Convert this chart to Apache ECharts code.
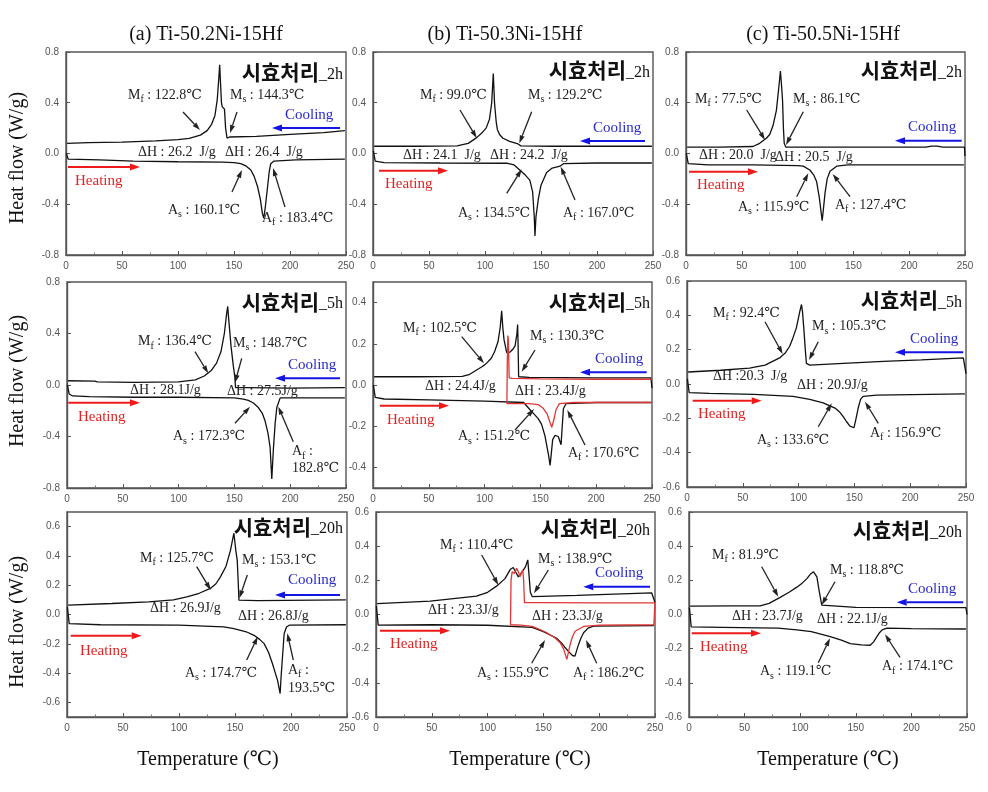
<!DOCTYPE html>
<html><head><meta charset="utf-8">
<script src="https://cdn.jsdelivr.net/npm/echarts@6/dist/echarts.min.js"></script>
<style>html,body{margin:0;padding:0;background:#fff}#c{width:988px;height:792px}</style>
</head><body><div id="c"></div>
<script>
// ---------- DATA (temperature °C, heat flow W/g) ----------
const xTicks = [0, 50, 100, 150, 200, 250];
const yTicks_08 = [-0.8, -0.4, 0.0, 0.4, 0.8];
const yTicks_05 = [-0.4, -0.2, 0.0, 0.2, 0.4];
const yTicks_06 = [-0.6, -0.4, -0.2, 0.0, 0.2, 0.4, 0.6];

// (a) Ti-50.2Ni-15Hf
const cool_a2 = [[1,0.08],[20,0.085],[50,0.09],[80,0.1],[100,0.11],[110,0.12],[120,0.145],[126,0.18],[130,0.23],[133,0.3],[135,0.42],[136.5,0.6],[137.2,0.7],[138,0.55],[138.8,0.4],[139.5,0.37],[140.5,0.38],[141.5,0.35],[142.5,0.2],[143.8,0.12],[146,0.13],[170,0.135],[200,0.15],[230,0.165],[249,0.18]];
const heat_a2 = [[0.3,0.0],[2,-0.045],[30,-0.05],[60,-0.06],[100,-0.065],[140,-0.068],[150,-0.072],[156,-0.08],[161,-0.1],[165,-0.13],[168,-0.18],[171,-0.26],[173.5,-0.36],[175.3,-0.47],[176.6,-0.51],[178,-0.42],[180,-0.26],[181.5,-0.14],[182.8,-0.08],[185.7,-0.06],[205,-0.05],[249,-0.045]];
const cool_a5 = [[1,0.033],[25,0.03],[27,0.025],[60,0.02],[100,0.025],[115,0.04],[123,0.07],[129,0.11],[134,0.17],[138,0.26],[141,0.4],[143,0.55],[144,0.61],[145,0.5],[147,0.3],[149,0.15],[150.4,0.06],[151,-0.02],[160,-0.02],[200,-0.025],[249,-0.02]];
const heat_a5 = [[0.3,0.0],[2,-0.07],[5,-0.085],[20,-0.09],[60,-0.095],[100,-0.095],[150,-0.1],[158,-0.11],[162.5,-0.12],[167,-0.14],[171.5,-0.175],[175,-0.22],[177.5,-0.28],[180,-0.37],[182,-0.485],[183.5,-0.73],[185,-0.49],[186.5,-0.3],[188,-0.175],[191,-0.1],[195,-0.1],[249,-0.1]];
const cool_a20 = [[1,0.064],[40,0.075],[73,0.086],[95,0.1],[107,0.12],[118,0.145],[128,0.178],[133,0.21],[137,0.257],[142,0.33],[146,0.44],[149,0.555],[150.7,0.44],[152,0.37],[153,0.2],[153.5,0.098],[170,0.095],[249,0.1]];
const heat_a20 = [[0.3,0.05],[2,-0.062],[30,-0.07],[100,-0.073],[140,-0.085],[149,-0.096],[160,-0.118],[167,-0.142],[172,-0.17],[176,-0.199],[180,-0.26],[183.4,-0.335],[186,-0.4],[188,-0.45],[190.3,-0.54],[191.2,-0.42],[192.4,-0.29],[193.9,-0.13],[196,-0.085],[198.5,-0.073],[249,-0.07]];

// (b) Ti-50.3Ni-15Hf
const cool_b2 = [[1,0.057],[40,0.057],[75,0.06],[85,0.08],[92.6,0.125],[98,0.17],[101,0.2],[104,0.27],[106,0.4],[107.4,0.63],[108.5,0.4],[110,0.25],[111,0.19],[113,0.15],[116,0.12],[122,0.095],[129.5,0.075],[132,0.06],[160,0.057],[249,0.057]];
const heat_b2 = [[0.3,0.02],[2,-0.06],[10,-0.072],[60,-0.075],[120,-0.077],[126,-0.09],[131,-0.13],[136,-0.17],[140,-0.21],[142.5,-0.3],[144,-0.5],[144.6,-0.65],[145.5,-0.5],[147.6,-0.36],[150,-0.25],[155,-0.15],[160,-0.115],[167,-0.1],[170,-0.08],[200,-0.075],[249,-0.075]];
const cool_b5 = [[1,0.04],[40,0.04],[80,0.042],[86,0.05],[92.8,0.073],[98,0.09],[101.8,0.106],[106,0.13],[109,0.163],[112,0.21],[114,0.28],[115.3,0.36],[116.3,0.28],[117.4,0.22],[119.8,0.157],[122.8,0.16],[125.5,0.175],[127.3,0.19],[129,0.25],[129.6,0.294],[130,0.2],[130.5,0.04],[140,0.037],[200,0.035],[249,0.035],[250,-0.015]];
const heat_b5 = [[0.3,0.0],[2,-0.06],[10,-0.068],[50,-0.072],[100,-0.078],[135,-0.085],[140.7,-0.12],[145,-0.145],[148,-0.163],[151,-0.19],[154,-0.245],[157.3,-0.34],[158.7,-0.39],[160,-0.32],[161,-0.265],[163,-0.245],[166,-0.25],[168.5,-0.29],[170.6,-0.115],[173,-0.09],[200,-0.085],[249,-0.085]];
const red_b5 = [[250,0.028],[200,0.028],[150,0.03],[125,0.032],[122,0.035],[121.3,0.22],[120.8,0.24],[120.3,0.1],[120,-0.09],[130,-0.09],[140,-0.09],[148,-0.095],[152,-0.11],[156,-0.14],[158.5,-0.18],[160.2,-0.205],[162,-0.17],[164,-0.12],[167,-0.09],[180,-0.085],[250,-0.085]];
const cool_b20 = [[1,0.064],[48.6,0.078],[90,0.107],[100,0.13],[108,0.166],[115.6,0.21],[120.2,0.263],[123,0.275],[125,0.25],[127.6,0.22],[131,0.25],[134,0.28],[136,0.32],[137.5,0.2],[138.3,0.13],[140,0.105],[180,0.112],[247,0.127],[250,0.07]];
const heat_b20 = [[0.3,0.05],[2,-0.062],[50,-0.06],[100,-0.063],[140,-0.075],[150,-0.1],[156,-0.12],[162,-0.14],[166,-0.165],[169,-0.19],[173,-0.22],[176,-0.24],[178.3,-0.244],[181,-0.185],[183.5,-0.14],[186,-0.107],[190,-0.08],[195,-0.068],[249,-0.065]];
const red_b20 = [[250,0.068],[200,0.068],[150,0.07],[133,0.07],[132.3,0.2],[131.5,0.26],[130,0.24],[129,0.22],[127.5,0.25],[126,0.27],[124,0.24],[122,0.25],[121,0.2],[120.5,-0.06],[130,-0.062],[140,-0.07],[146,-0.085],[153,-0.107],[160,-0.135],[165,-0.165],[168,-0.2],[171,-0.263],[174,-0.175],[176,-0.13],[178.4,-0.098],[186,-0.07],[200,-0.062],[249,-0.06],[250,0.068]];

// (c) Ti-50.5Ni-15Hf
const cool_c2 = [[1,0.05],[30,0.05],[60,0.055],[66,0.08],[72,0.12],[75,0.15],[78,0.22],[81,0.34],[83.5,0.55],[84.6,0.65],[85.5,0.55],[86.5,0.42],[87.3,0.2],[88,0.08],[89.5,0.05],[150,0.05],[215,0.05],[220,0.058],[225,0.058],[230,0.05],[249.5,0.05],[250,-0.02]];
const heat_c2 = [[0.3,0.0],[2,-0.08],[20,-0.09],[60,-0.09],[100,-0.095],[105,-0.1],[111,-0.13],[114.5,-0.17],[117,-0.22],[119.5,-0.35],[122,-0.53],[123,-0.45],[124.6,-0.31],[126.5,-0.2],[129,-0.14],[135,-0.1],[145,-0.09],[249,-0.09]];
const cool_c5 = [[1,0.07],[30,0.08],[56,0.093],[70,0.11],[83,0.152],[88,0.18],[92,0.22],[95,0.27],[98,0.327],[101,0.42],[102.6,0.463],[103.5,0.42],[104.6,0.33],[106,0.2],[107,0.12],[110,0.11],[140,0.12],[176,0.132],[210,0.14],[247.6,0.152],[250,0.06]];
const heat_c5 = [[0.3,0.03],[2,-0.05],[20,-0.055],[60,-0.06],[95,-0.072],[110,-0.09],[122,-0.11],[132.6,-0.14],[137,-0.165],[140,-0.19],[143,-0.22],[146,-0.245],[149.6,-0.255],[151.5,-0.2],[153.4,-0.14],[155.5,-0.09],[157.8,-0.072],[170,-0.065],[249,-0.058]];
const cool_c20 = [[1,0.049],[40,0.05],[64,0.05],[72,0.065],[82,0.1],[90,0.13],[97,0.16],[102,0.185],[106,0.21],[109,0.235],[112,0.25],[113.5,0.245],[115,0.22],[117,0.14],[119.4,0.055],[121,0.045],[150,0.042],[249,0.04],[250,0.0]];
const heat_c20 = [[0.3,0.04],[2,-0.072],[30,-0.075],[80,-0.08],[97,-0.09],[110,-0.1],[127,-0.13],[137,-0.15],[145,-0.17],[155,-0.178],[163,-0.18],[166,-0.16],[169,-0.13],[171.5,-0.105],[173.7,-0.09],[178,-0.08],[200,-0.083],[249,-0.085]];

const colTitles = ['(a) Ti-50.2Ni-15Hf', '(b) Ti-50.3Ni-15Hf', '(c) Ti-50.5Ni-15Hf'];
const ageTags = ['_2h', '_5h', '_20h'];

// ---------- LAYOUT ----------
const SERIF = '"Liberation Serif","DejaVu Serif","Times New Roman",serif';
const panels = [
  {g:[66,52,280,203],  y:[-0.8,0.8], ticks:yTicks_08, cool:cool_a2,  heat:heat_a2,  red:null, tag:0},
  {g:[373,52,280,203], y:[-0.8,0.8], ticks:yTicks_08, cool:cool_b2,  heat:heat_b2,  red:null, tag:0},
  {g:[686,52,279,203], y:[-0.8,0.8], ticks:yTicks_08, cool:cool_c2,  heat:heat_c2,  red:null, tag:0},
  {g:[67,282,279,206], y:[-0.8,0.8], ticks:yTicks_08, cool:cool_a5,  heat:heat_a5,  red:null, tag:1},
  {g:[373,282,279,206],y:[-0.5,0.5], ticks:yTicks_05, cool:cool_b5,  heat:heat_b5,  red:red_b5, tag:1},
  {g:[687,281,279,206],y:[-0.6,0.6], ticks:yTicks_06, cool:cool_c5,  heat:heat_c5,  red:null, tag:1},
  {g:[67,512,280,205], y:[-0.7,0.7], ticks:yTicks_06, cool:cool_a20, heat:heat_a20, red:null, tag:2},
  {g:[376,512,279,205],y:[-0.6,0.6], ticks:yTicks_06, cool:cool_b20, heat:heat_b20, red:red_b20, tag:2},
  {g:[689,512,278,205],y:[-0.6,0.6], ticks:yTicks_06, cool:cool_c20, heat:heat_c20, red:null, tag:2}
];

// annotation layout (pixels): texts [text, left, centerY], arrows [x1,y1,x2,y2]
const anns = [
  {t:[['M{s|f} : 122.8℃',128,95],['M{s|s} : 144.3℃',230,95],['ΔH : 26.2  J/g',138,152],['ΔH : 26.4  J/g',225,152],['A{s|s} : 160.1℃',168,210],['A{s|f} : 183.4℃',262,218]],
   a:[[183,112,200,130],[237,112,230,133],[232,192,242,170],[285,207,273,168]],
   cool:[285,115,340,128,272,128], heat:[75,181,68,167,140,167], tag:[343,72]},
  {t:[['M{s|f} : 99.0℃',420,95],['M{s|s} : 129.2℃',528,95],['ΔH : 24.1  J/g',403,155],['ΔH : 24.2  J/g',490,155],['A{s|s} : 134.5℃',458,213],['A{s|f} : 167.0℃',563,213]],
   a:[[460,110,476.7,138],[531.7,111.7,519.3,143.3],[506.7,193.3,521.7,169.3],[575,200,560.7,166.7]],
   cool:[593,128,645,141,580,141], heat:[385,184,379,170.7,448,170.7], tag:[650,70]},
  {t:[['M{s|f} : 77.5℃',695,99],['M{s|s} : 86.1℃',793,99],['ΔH : 20.0  J/g',699,155],['ΔH : 20.5  J/g',775,157],['A{s|s} : 115.9℃',738,207],['A{s|f} : 127.4℃',835,205]],
   a:[[746.7,110,765,140],[803.3,111.7,786,145],[796.7,196.7,808.3,173.3],[850,196.7,832.7,174]],
   cool:[908,127,961.7,140.7,895,140.7], heat:[697,185,689,171.7,758,171.7], tag:[962,70]},
  {t:[['M{s|f} : 136.4℃',138,341.7],['M{s|s} : 148.7℃',233,343],['ΔH : 28.1J/g',130,390],['ΔH : 27.5J/g',227,391.7],['A{s|s} : 172.3℃',173,436.7],['A{s|f} :',292,451.7],['182.8℃',292,468.3]],
   a:[[195,351.7,208.3,373.3],[241.7,358.3,235,382.7],[235,423.3,250,406.7],[293.3,441.7,278.3,406.7]],
   cool:[288,365,340,378.3,275,378.3], heat:[78,416.7,68.3,402.7,140,402.7], tag:[343,301.7]},
  {t:[['M{s|f} : 102.5℃',403,328.3],['M{s|s} : 130.3℃',530,336],['ΔH : 24.4J/g',425,386],['ΔH : 23.4J/g',515,391.7],['A{s|s} : 151.2℃',458,436.7],['A{s|f} : 170.6℃',568,453.3]],
   a:[[461.7,336.7,484,363.3],[535,350,521.7,371.7],[515,430,534,409],[585,445,567.3,410]],
   cool:[595,359,646.7,372.3,580,372.3], heat:[387,420,380,405.7,449,405.7], tag:[650,301.7]},
  {t:[['M{s|f} : 92.4℃',713,313.3],['M{s|s} : 105.3℃',812,326.7],['ΔH :20.3  J/g',713,376.7],['ΔH : 20.9J/g',797,385],['A{s|s} : 133.6℃',757,440],['A{s|f} : 156.9℃',870,433.3]],
   a:[[765,321.7,782.7,354],[818.3,341.7,809,360],[818.3,426.7,831.7,403.3],[878.3,423.3,865,401.7]],
   cool:[910,339,963.3,352.3,895,352.3], heat:[698,414.3,692.7,400.7,761.7,400.7], tag:[962,300]},
  {t:[['M{s|f} : 125.7℃',140,558.3],['M{s|s} : 153.1℃',242,560],['ΔH : 26.9J/g',150,608.3],['ΔH : 26.8J/g',238,616.7],['A{s|s} : 174.7℃',185,673.3],['A{s|f} :',288,670],['193.5℃',288,688.3]],
   a:[[196.7,566.7,210.7,590],[247.3,575,239.3,598.3],[246.7,660,257.7,636.7],[293.3,660,287.3,633.3]],
   cool:[288,580,340,595,275,595], heat:[80,650.7,70.7,635.7,141.7,635.7], tag:[343,526.7]},
  {t:[['M{s|f} : 110.4℃',440,545],['M{s|s} : 138.9℃',538,559.3],['ΔH : 23.3J/g',428,610],['ΔH : 23.3J/g',532,616.7],['A{s|s} : 155.9℃',477,673.3],['A{s|f} : 186.2℃',573,673.3]],
   a:[[481.7,555,498.3,585],[548.3,570,534,593.3],[531.7,663.3,545,640],[596.7,663.3,586,640]],
   cool:[595,573.3,650,586.7,583.3,586.7], heat:[390,644,380,630.7,450,630.7], tag:[650,528.3]},
  {t:[['M{s|f} : 81.9℃',712,555],['M{s|s} : 118.8℃',830,570],['ΔH : 23.7J/g',732,616.7],['ΔH : 22.1J/g',817,619.3],['A{s|s} : 119.1℃',760,671.7],['A{s|f} : 174.1℃',882,666.7]],
   a:[[761.7,566.7,778.3,596.7],[835,581.7,821.7,605],[818.3,662.7,830,638.3],[900,657.3,885,634.3]],
   cool:[908,589.3,963.3,602.3,896.7,602.3], heat:[700,646.7,691.7,633.3,761,633.3], tag:[962,530]}
];

function fmt1(v){ return Math.abs(v) < 1e-9 ? '0.0' : v.toFixed(1); }
function txt(x, y, text, extra){
  return {type:'text', x:x, y:y, z:50, silent:true,
    style: Object.assign({text:text, font:'14px '+SERIF, fill:'#222', align:'left', verticalAlign:'middle',
      rich:{s:{font:'10px '+SERIF, fill:'#222', verticalAlign:'bottom', padding:[9,0,0,0]}}}, extra||{})};
}
function arrow(x1,y1,x2,y2,color,lw,hl,hw){
  const ang = Math.atan2(y2-y1, x2-x1);
  const bx = x2 - hl*Math.cos(ang), by = y2 - hl*Math.sin(ang);
  const px = -Math.sin(ang)*hw/2, py = Math.cos(ang)*hw/2;
  return [
    {type:'line', z:60, silent:true, shape:{x1:x1,y1:y1,x2:bx,y2:by}, style:{stroke:color, lineWidth:lw}},
    {type:'polygon', z:60, silent:true, shape:{points:[[x2,y2],[bx+px,by+py],[bx-px,by-py]]}, style:{fill:color}}
  ];
}

const grids = [], xAxes = [], yAxes = [], series = [], graphics = [];
panels.forEach((p, i) => {
  grids.push({left:p.g[0], top:p.g[1], width:p.g[2], height:p.g[3], show:true, borderColor:'#555', borderWidth:1.4, backgroundColor:'transparent'});
  xAxes.push({gridIndex:i, type:'value', min:0, max:250, interval:50,
    axisLine:{onZero:false, lineStyle:{color:'#555', width:1.4}},
    axisTick:{inside:true, length:4, lineStyle:{color:'#555'}},
    minorTick:{show:true, splitNumber:2, length:2.5, lineStyle:{color:'#777'}},
    splitLine:{show:false},
    axisLabel:{fontSize:10, color:'#555', fontFamily:'"Liberation Sans",Arial,sans-serif', margin:6}});
  yAxes.push({gridIndex:i, type:'value', min:p.y[0], max:p.y[1],
    axisLine:{onZero:false, lineStyle:{color:'#555', width:1.4}},
    axisTick:{inside:true, length:4, customValues:p.ticks, lineStyle:{color:'#555'}},
    splitLine:{show:false},
    axisLabel:{fontSize:10, color:'#555', fontFamily:'"Liberation Sans",Arial,sans-serif', margin:7,
      customValues:p.ticks, formatter:fmt1}});
  const ls = {color:'#111', width:1.3};
  series.push({type:'line', xAxisIndex:i, yAxisIndex:i, data:p.cool, showSymbol:false, symbol:'none', lineStyle:ls, z:3, animation:false});
  series.push({type:'line', xAxisIndex:i, yAxisIndex:i, data:p.heat, showSymbol:false, symbol:'none', lineStyle:ls, z:3, animation:false});
  if (p.red) series.push({type:'line', xAxisIndex:i, yAxisIndex:i, data:p.red, showSymbol:false, symbol:'none', lineStyle:{color:'#e03535', width:1.3}, z:4, animation:false});

  const a = anns[i];
  a.t.forEach(t => graphics.push(txt(t[1], t[2], t[0])));
  a.a.forEach(r => graphics.push(...arrow(r[0],r[1],r[2],r[3],'#222',1.3,8,5)));
  graphics.push(txt(a.cool[0], a.cool[1], 'Cooling', {fill:'#2a2ad0', font:'15px '+SERIF}));
  graphics.push(...arrow(a.cool[2],a.cool[3],a.cool[4],a.cool[5],'#1414e6',2,10,7));
  graphics.push(txt(a.heat[0], a.heat[1], 'Heating', {fill:'#e02424', font:'15px '+SERIF}));
  graphics.push(...arrow(a.heat[2],a.heat[3],a.heat[4],a.heat[5],'#ee1a1a',2,10,7));
  graphics.push({type:'text', x:a.tag[0], y:a.tag[1], z:50, silent:true,
    style:{text:'{k|시효처리}{h|'+ageTags[p.tag]+'}', align:'right', verticalAlign:'middle',
      rich:{k:{font:'bold 21px "Noto Sans CJK KR",sans-serif', fill:'#111'},
            h:{font:'16px '+SERIF, fill:'#111', verticalAlign:'bottom'}}}});
});

// column titles, axis titles
[206, 505, 823].forEach((cx, j) => graphics.push({type:'text', x:cx, y:35, silent:true,
  style:{text:colTitles[j], font:'20px '+SERIF, fill:'#111', align:'center', verticalAlign:'middle'}}));
[158, 381, 622].forEach(cy => graphics.push({type:'text', x:18, y:cy, rotation:Math.PI/2, silent:true,
  style:{text:'Heat flow (W/g)', font:'20px '+SERIF, fill:'#111', align:'center', verticalAlign:'middle'}}));
[208, 520, 828].forEach(cx => graphics.push({type:'text', x:cx, y:760, silent:true,
  style:{text:'Temperature (℃)', font:'20px '+SERIF, fill:'#111', align:'center', verticalAlign:'middle'}}));

const chart = echarts.init(document.getElementById('c'), null, {renderer:'canvas'});
chart.setOption({animation:false, backgroundColor:'#fff', grid:grids, xAxis:xAxes, yAxis:yAxes, series:series, graphic:graphics});
</script></body></html>
